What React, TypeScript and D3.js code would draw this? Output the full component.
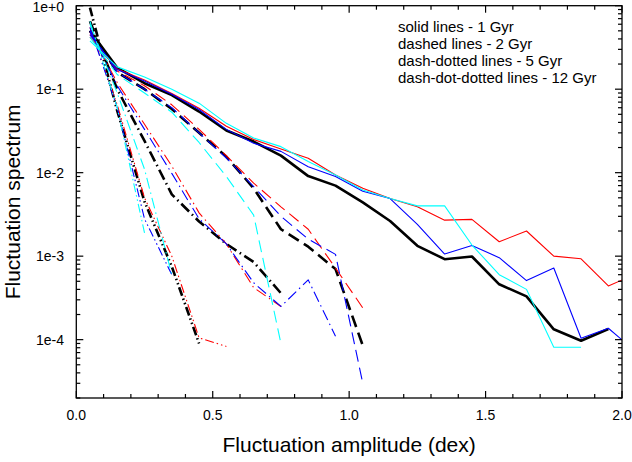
import React from "react";
import * as d3 from "d3";

const xBins = [0.05, 0.15, 0.25, 0.35, 0.45, 0.55, 0.65, 0.75, 0.85, 0.95, 1.05, 1.15, 1.25, 1.35, 1.45, 1.55, 1.65, 1.75, 1.85, 1.95, 2.05];

// solid lines - 1 Gyr
const solidBlack = [0.5, 0.18, 0.118, 0.085, 0.054, 0.032, 0.0236, 0.016, 0.0091, 0.007, 0.0044, 0.00264, 0.00133, 0.00092, 0.00099, 0.00046, 0.00033, 1.33e-4, 9.7e-5, 1.34e-4];
const solidRed = [0.42, 0.175, 0.129, 0.089, 0.059, 0.036, 0.025, 0.0192, 0.0149, 0.0094, 0.0065, 0.0049, 0.0039, 0.0027, 0.00276, 0.00149, 0.002, 0.001, 0.00093, 0.00044, 0.00061];
const solidBlue = [0.45, 0.172, 0.125, 0.087, 0.057, 0.033, 0.0225, 0.018, 0.0118, 0.009, 0.006, 0.0049, 0.0024, 0.00106, 0.00134, 0.00096, 0.00051, 0.00072, 1.04e-4, 1.37e-4, 7.2e-5];
const solidCyan = [0.38, 0.185, 0.14, 0.1, 0.068, 0.039, 0.026, 0.0205, 0.0136, 0.0094, 0.0062, 0.0049, 0.004, 0.004, 0.00136, 0.0006, 0.0004, 8.1e-5, 8.1e-5];

// dashed lines - 2 Gyr
const dashedBlack = [0.5, 0.16, 0.1, 0.058, 0.03, 0.0155, 0.0065, 0.0021, 0.0013, 0.0007, 8.5e-5];
const dashedRed = [0.45, 0.165, 0.11, 0.065, 0.033, 0.016, 0.0075, 0.0039, 0.0021, 0.00072, 0.00024];
const dashedBlue = [0.48, 0.16, 0.1, 0.06, 0.03, 0.015, 0.0068, 0.003, 0.0016, 0.00105, 3e-5];
const dashedCyan = [0.42, 0.15, 0.09, 0.053, 0.023, 0.009, 0.0031, 9e-5];

// dash-dotted lines - 5 Gyr
const dashDotBlack = [0.65, 0.1, 0.024, 0.0055, 0.0026, 0.0014, 0.00085, 0.00036];
const dashDotRed = [0.48, 0.12, 0.038, 0.012, 0.0033, 0.0014, 0.00042, 0.00025];
const dashDotBlue = [0.5, 0.11, 0.033, 0.0098, 0.0028, 0.0014, 0.00048, 0.00025, 0.00052, 0.00011];
const dashDotCyan = [0.6, 0.09, 0.011, 0.0006];

// dash-dot-dotted lines - 12 Gyr
const dddBlack = [0.95, 0.055, 0.0045, 0.00075, 9e-5];
const dddRed = [0.55, 0.065, 0.005, 0.001, 1.05e-4, 8.3e-5];
const dddBlue = [0.55, 0.06, 0.0028, 0.0006];
const dddCyan = [0.65, 0.06, 0.0019];

const legendLines = [
  "solid lines - 1 Gyr",
  "dashed lines - 2 Gyr",
  "dash-dotted lines - 5 Gyr",
  "dash-dot-dotted lines - 12 Gyr",
];
const xTickLabels = ["0.0", "0.5", "1.0", "1.5", "2.0"];
const yTickLabels = ["1e+0", "1e-1", "1e-2", "1e-3", "1e-4"];

const W = 632;
const H = 462;
const M = { left: 76.3, right: 622, top: 5.7, bottom: 398 };
const FONT = "'Liberation Sans', Arial, Helvetica, sans-serif";

const DASH = {
  solid: undefined as string | undefined,
  dashed: "12,6",
  dashdot: "11,4,1.5,4",
  ddd: "9,3,1.5,3,1.5,3",
};

type Series = { values: number[]; color: string; style: keyof typeof DASH };

const series: Series[] = [
  { values: solidBlack, color: "#000000", style: "solid" },
  { values: dashedBlack, color: "#000000", style: "dashed" },
  { values: dashDotBlack, color: "#000000", style: "dashdot" },
  { values: dddBlack, color: "#000000", style: "ddd" },
  { values: solidRed, color: "#ff0000", style: "solid" },
  { values: dashedRed, color: "#ff0000", style: "dashed" },
  { values: dashDotRed, color: "#ff0000", style: "dashdot" },
  { values: dddRed, color: "#ff0000", style: "ddd" },
  { values: solidBlue, color: "#0000ff", style: "solid" },
  { values: dashedBlue, color: "#0000ff", style: "dashed" },
  { values: dashDotBlue, color: "#0000ff", style: "dashdot" },
  { values: dddBlue, color: "#0000ff", style: "ddd" },
  { values: solidCyan, color: "#00ffff", style: "solid" },
  { values: dashedCyan, color: "#00ffff", style: "dashed" },
  { values: dashDotCyan, color: "#00ffff", style: "dashdot" },
  { values: dddCyan, color: "#00ffff", style: "ddd" },
];

export default function App() {
  const x = d3.scaleLinear().domain([0, 2]).range([M.left, M.right]);
  const y = d3.scaleLog().domain([2e-5, 1]).range([M.bottom, M.top]);
  const line = d3
    .line<[number, number]>()
    .x((d) => x(d[0]))
    .y((d) => y(d[1]));

  const xMinor = d3.range(0, 2.0001, 0.1);
  const xMajor = [0, 0.5, 1, 1.5, 2];
  const decades = [1, 1e-1, 1e-2, 1e-3, 1e-4];
  const yMinor: number[] = [];
  for (let e = -5; e <= 0; e++) {
    for (let m = 2; m <= 9; m++) {
      const v = m * Math.pow(10, e);
      if (v >= 2e-5 && v <= 1) yMinor.push(v);
    }
  }
  const majLen = 7;
  const minLen = 4;

  return (
    <svg
      width={W}
      height={H}
      style={{ position: "absolute", left: 0, top: 0, background: "#fff" }}
      fontFamily={FONT}
    >
      <defs>
        <clipPath id="plotClip">
          <rect x={M.left} y={M.top} width={M.right - M.left} height={M.bottom - M.top} />
        </clipPath>
      </defs>
      <rect x={0} y={0} width={W} height={H} fill="#fff" />

      <g clipPath="url(#plotClip)">
        {series.map((s, i) => {
          const pts = s.values.map((v, k) => [xBins[k], v] as [number, number]);
          const thick = s.color === "#000000";
          return (
            <path
              key={i}
              d={line(pts) || ""}
              fill="none"
              stroke={s.color}
              strokeWidth={thick ? 2.6 : 1.1}
              strokeDasharray={DASH[s.style]}
              strokeLinejoin="round"
            />
          );
        })}
      </g>

      {/* frame */}
      <rect
        x={M.left}
        y={M.top}
        width={M.right - M.left}
        height={M.bottom - M.top}
        fill="none"
        stroke="#000"
        strokeWidth={1.3}
      />

      {/* x ticks bottom and top */}
      {xMinor.map((v, i) => {
        const isMajor = xMajor.some((m) => Math.abs(m - v) < 1e-6);
        const len = isMajor ? majLen : minLen;
        const px = x(v);
        return (
          <g key={"xt" + i}>
            <line x1={px} x2={px} y1={M.bottom} y2={M.bottom - len} stroke="#000" strokeWidth={1.2} />
            <line x1={px} x2={px} y1={M.top} y2={M.top + len} stroke="#000" strokeWidth={1.2} />
          </g>
        );
      })}
      {xMajor.map((v, i) => (
        <text key={"xl" + i} x={x(v)} y={420} fontSize={14} textAnchor="middle" fill="#000">
          {xTickLabels[i]}
        </text>
      ))}

      {/* y ticks left and right */}
      {decades.map((v, i) => (
        <g key={"yd" + i}>
          <line x1={M.left} x2={M.left + majLen} y1={y(v)} y2={y(v)} stroke="#000" strokeWidth={1.2} />
          <line x1={M.right} x2={M.right - majLen} y1={y(v)} y2={y(v)} stroke="#000" strokeWidth={1.2} />
          <text x={64} y={Math.max(y(v) + 4.9, 12)} fontSize={14} textAnchor="end" fill="#000">
            {yTickLabels[i]}
          </text>
        </g>
      ))}
      {yMinor.map((v, i) => (
        <g key={"ym" + i}>
          <line x1={M.left} x2={M.left + minLen} y1={y(v)} y2={y(v)} stroke="#000" strokeWidth={1.2} />
          <line x1={M.right} x2={M.right - minLen} y1={y(v)} y2={y(v)} stroke="#000" strokeWidth={1.2} />
        </g>
      ))}

      {/* legend text */}
      {legendLines.map((t, i) => (
        <text key={"lg" + i} x={398} y={32 + i * 17} fontSize={15} fill="#000">
          {t}
        </text>
      ))}

      {/* axis titles */}
      <text x={(M.left + M.right) / 2} y={452} fontSize={21} textAnchor="middle" fill="#000">
        Fluctuation amplitude (dex)
      </text>
      <text
        transform={`translate(20, ${(M.top + M.bottom) / 2}) rotate(-90)`}
        fontSize={21}
        textAnchor="middle"
        fill="#000"
      >
        Fluctuation spectrum
      </text>
    </svg>
  );
}
